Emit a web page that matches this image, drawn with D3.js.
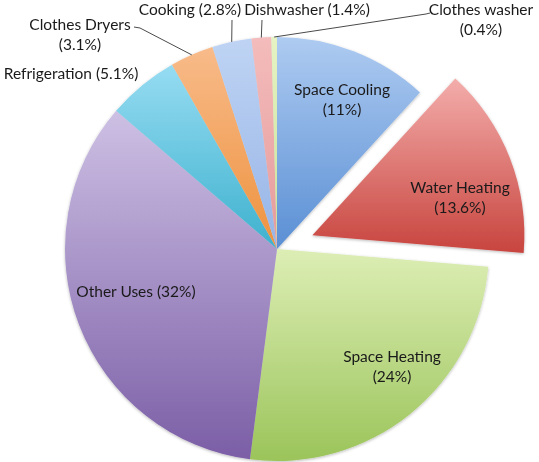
<!DOCTYPE html>
<html>
<head>
<meta charset="utf-8">
<script src="https://cdn.jsdelivr.net/npm/d3@7"></script>
<style>
  html, body { margin: 0; padding: 0; background: #fff; }
  svg { display: block; }
  text { font-family: Lato, "Open Sans", sans-serif; font-size: 15.5px; fill: #1a1a1a; }
</style>
</head>
<body>
<svg id="chart" width="539" height="462"></svg>
<script>
// Household energy end uses, share of total (%)
const categories = ["Space Cooling", "Water Heating", "Space Heating", "Other Uses",
                    "Refrigeration", "Clothes Dryers", "Cooking", "Dishwasher", "Clothes washer"];
const shares = [11, 13.6, 24, 32, 5.1, 3.1, 2.8, 1.4, 0.4];
const exploded = ["Water Heating"];

// Slice gradients: lighter at the top, deeper at the bottom
const fillTop    = ["#aecbf1", "#f3adab", "#ddeeb5", "#cdc0e4", "#96dcf2", "#f8bb8a", "#bfd4f4", "#f4bcbc", "#e6f3c4"];
const fillBottom = ["#5a8fd4", "#c8443e", "#9bc45a", "#7b5ea6", "#3eb1ce", "#ee923e", "#96b4e6", "#e59a9a", "#c8e298"];

// Label placement: lines of text, anchor and baseline of the first line
const labelLayout = {
  "Space Cooling":  { lines: ["Space Cooling", "(11%)"],       x: 342, y: 95,  anchor: "middle" },
  "Water Heating":  { lines: ["Water Heating", "(13.6%)"],     x: 460, y: 193, anchor: "middle" },
  "Space Heating":  { lines: ["Space Heating", "(24%)"],       x: 392, y: 362, anchor: "middle" },
  "Other Uses":     { lines: ["Other Uses (32%)"],             x: 136, y: 297, anchor: "middle" },
  "Refrigeration":  { lines: ["Refrigeration (5.1%)"],         x: 71,  y: 79,  anchor: "middle" },
  "Clothes Dryers": { lines: ["Clothes Dryers", "(3.1%)"],     x: 80,  y: 30,  anchor: "middle",
                      leader: [[134, 27], [140, 28]] },
  "Cooking":        { lines: ["Cooking (2.8%)"],               x: 190, y: 15,  anchor: "middle",
                      leader: [[232, 20]] },
  "Dishwasher":     { lines: ["Dishwasher (1.4%)"],            x: 307, y: 15,  anchor: "middle",
                      leader: [[262, 20]] },
  "Clothes washer": { lines: ["Clothes washer", "(0.4%)"],     x: 481, y: 15,  anchor: "middle",
                      leader: [[430, 13], [426, 14]] }
};

const svg = d3.select("#chart");
const cx = 277, cy = 249, radius = 212, explodeBy = 38;
const lineGap = 20;

const data = categories.map((c, i) => ({ name: c, value: shares[i], i }));

const pie = d3.pie().sort(null).value(d => d.value);
const arcs = pie(data);
const arc = d3.arc().innerRadius(0).outerRadius(radius);

const defs = svg.append("defs");
arcs.forEach(a => {
  const g = defs.append("linearGradient")
    .attr("id", "grad" + a.data.i)
    .attr("x1", 0).attr("y1", 0).attr("x2", 0).attr("y2", 1);
  g.append("stop").attr("offset", "0%").attr("stop-color", fillTop[a.data.i]);
  g.append("stop").attr("offset", "100%").attr("stop-color", fillBottom[a.data.i]);
});

const shadow = defs.append("filter").attr("id", "shadow")
  .attr("x", "-10%").attr("y", "-10%").attr("width", "120%").attr("height", "120%");
shadow.append("feDropShadow").attr("dx", 0).attr("dy", 1).attr("stdDeviation", 1.6)
  .attr("flood-color", "#000").attr("flood-opacity", 0.28);

function offsetOf(a) {
  if (!exploded.includes(a.data.name)) return [0, 0];
  const mid = (a.startAngle + a.endAngle) / 2;
  return [Math.sin(mid) * explodeBy, -Math.cos(mid) * explodeBy];
}

const slices = svg.append("g").attr("filter", "url(#shadow)");
slices.selectAll("path")
  .data(arcs)
  .join("path")
  .attr("transform", d => {
    const [dx, dy] = offsetOf(d);
    return `translate(${cx + dx},${cy + dy})`;
  })
  .attr("d", arc)
  .attr("fill", d => `url(#grad${d.data.i})`);

// Leader lines from outside labels to the slice edge
const leaderGroup = svg.append("g")
  .attr("fill", "none").attr("stroke", "#4a4a4a").attr("stroke-width", 1);
arcs.forEach(a => {
  const lay = labelLayout[a.data.name];
  if (!lay.leader) return;
  const mid = (a.startAngle + a.endAngle) / 2;
  const edge = [cx + Math.sin(mid) * radius, cy - Math.cos(mid) * radius];
  leaderGroup.append("path").attr("d", d3.line()([...lay.leader, edge]));
});

// Labels
const labelGroup = svg.append("g");
arcs.forEach(a => {
  const lay = labelLayout[a.data.name];
  const t = labelGroup.append("text")
    .attr("text-anchor", lay.anchor)
    .attr("x", lay.x).attr("y", lay.y);
  lay.lines.forEach((ln, k) => {
    t.append("tspan").attr("x", lay.x).attr("y", lay.y + k * lineGap).text(ln);
  });
});
</script>
</body>
</html>
